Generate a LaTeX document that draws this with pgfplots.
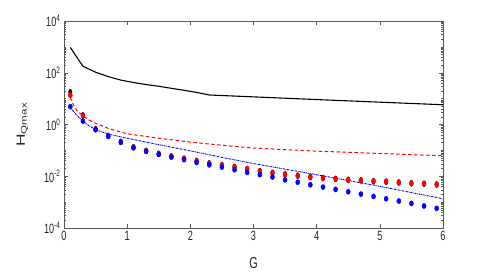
\documentclass[border=0pt]{standalone}
\usepackage{fontspec}
\setmainfont{Liberation Sans}
\newfontfamily\narrowfont[FakeStretch=0.68]{Liberation Sans}
\usepackage{graphicx}
\usepackage{pgfplots}
\pgfplotsset{compat=1.18}
\begin{document}
\begin{tikzpicture}
\path[use as bounding box] (-64bp,-45bp) rectangle (427bp,228bp);
\begin{axis}[
  at={(0,0)}, anchor=south west,
  scale only axis, width=379bp, height=207bp,
  ymode=log, xmin=0, xmax=6, ymin=1e-4, ymax=1e4,
  xtick={0,1,2,3,4,5,6},
  ytick={1e-4,1e-2,1,1e2,1e4},
  yticklabels={10\textsuperscript{-4},10\textsuperscript{-2},10\textsuperscript{0},10\textsuperscript{2},10\textsuperscript{4}},
  minor ytick={2e-4,3e-4,4e-4,5e-4,6e-4,7e-4,8e-4,9e-4,1e-3,2e-3,3e-3,4e-3,5e-3,6e-3,7e-3,8e-3,9e-3,
    2e-2,3e-2,4e-2,5e-2,6e-2,7e-2,8e-2,9e-2,1e-1,2e-1,3e-1,4e-1,5e-1,6e-1,7e-1,8e-1,9e-1,
    2,3,4,5,6,7,8,9,10,20,30,40,50,60,70,80,90,200,300,400,500,600,700,800,900,1000,2000,3000,4000,5000,6000,7000,8000,9000},
  /pgf/number format/assume math mode=true,
  tick align=inside,
  major tick length=4bp, minor tick length=2bp,
  axis line style={gray!70!black, line width=0.5pt},
  every tick/.style={gray!70!black, line width=0.4pt},
  tick label style={font=\narrowfont\fontsize{13.5}{15}\selectfont, text=black!85},
  xlabel={G},
  xlabel style={font=\narrowfont\fontsize{16}{18}\selectfont, text=black!85, at={(axis description cs:0.5,-0.169)}, anchor=center},
  clip=false,
]
% black solid line
\addplot[black, line width=1.1pt] coordinates {
(0.1,955) (0.3,178) (0.5,105) (0.7,71) (0.9,52) (1.1,42) (1.3,35) (1.5,30) (1.7,25) (1.9,21) (2.1,17.4) (2.3,13.8) (3,11.7) (4,9.2) (5,7.3) (6,5.8)};
% red dashed line
\addplot[red, line width=1pt, dash pattern=on 3.5pt off 2.5pt] coordinates {
(0.1,11.0) (0.15,5.62) (0.2,3.55) (0.3,2.14) (0.4,1.48) (0.5,1.12) (0.7,0.708) (1.0,0.437) (1.5,0.295) (2,0.209) (2.5,0.158) (3,0.123) (4,0.0933) (5,0.0759) (6,0.0617)};
% blue dash-dot line
\addplot[blue, line width=0.9pt, dash pattern=on 2pt off 0.8pt on 0.6pt off 0.8pt] coordinates {
(0.1,4.90) (0.15,3.16) (0.2,2.29) (0.3,1.35) (0.4,0.891) (0.5,0.631) (0.7,0.427) (1.0,0.295) (1.5,0.166) (2,0.0955) (2.5,0.0537) (3,0.0309) (4,0.0115) (5,0.00407) (6,0.00135)};
% black markers
\addplot[only marks, mark=*, mark size=3.1pt, mark options={xscale=0.55, fill=black, draw=black}] coordinates {
(0.1,17.7) (0.3,2.24) (0.5,0.661) (0.7,0.363) (0.9,0.214) (1.1,0.132) (1.3,0.0955) (1.5,0.0741) (1.7,0.0589) (1.9,0.0479) (2.1,0.0389) (2.3,0.0316) (2.5,0.0269) (2.7,0.0229) (2.9,0.0191) (3.1,0.0158) (3.3,0.0135) (3.5,0.0117) (3.7,0.0105) (3.9,0.00933) (4.1,0.00851) (4.3,0.00794) (4.5,0.00724) (4.7,0.00692) (4.9,0.00646) (5.1,0.00617) (5.3,0.00575) (5.5,0.00537) (5.7,0.00513) (5.9,0.00479)};
% red markers
\addplot[only marks, mark=*, mark size=2.6pt, mark options={xscale=0.8, fill=red, draw=red}] coordinates {
(0.1,13.5) (0.3,2.24) (0.5,0.661) (0.7,0.363) (0.9,0.214) (1.1,0.132) (1.3,0.0955) (1.5,0.0741) (1.7,0.0589) (1.9,0.0479) (2.1,0.0389) (2.3,0.0316) (2.5,0.0269) (2.7,0.0229) (2.9,0.0191) (3.1,0.0158) (3.3,0.0135) (3.5,0.0117) (3.7,0.0105) (3.9,0.00933) (4.1,0.00851) (4.3,0.00794) (4.5,0.00724) (4.7,0.00692) (4.9,0.00646) (5.1,0.00617) (5.3,0.00575) (5.5,0.00537) (5.7,0.00513) (5.9,0.00479)};
% blue markers
\addplot[only marks, mark=*, mark size=2.6pt, mark options={xscale=0.8, fill=blue, draw=blue}] coordinates {
(0.1,4.90) (0.3,1.35) (0.5,0.631) (0.7,0.347) (0.9,0.204) (1.1,0.126) (1.3,0.0912) (1.5,0.0692) (1.7,0.0550) (1.9,0.0437) (2.1,0.0339) (2.3,0.0275) (2.5,0.0224) (2.7,0.0178) (2.9,0.0141) (3.1,0.0115) (3.3,0.00933) (3.5,0.00724) (3.7,0.00589) (3.9,0.00468) (4.1,0.00380) (4.3,0.00309) (4.5,0.00251) (4.7,0.00204) (4.9,0.00166) (5.1,0.00135) (5.3,0.00110) (5.5,0.000891) (5.7,0.000708) (5.9,0.000575)};
\node[rotate=90, anchor=center, font=\fontsize{12}{14}\selectfont, text=black!85] at (rel axis cs:-0.11,0.5) {\scalebox{1.45}[1]{H\textsubscript{Qmax}}};
\end{axis}
\end{tikzpicture}
\end{document}
